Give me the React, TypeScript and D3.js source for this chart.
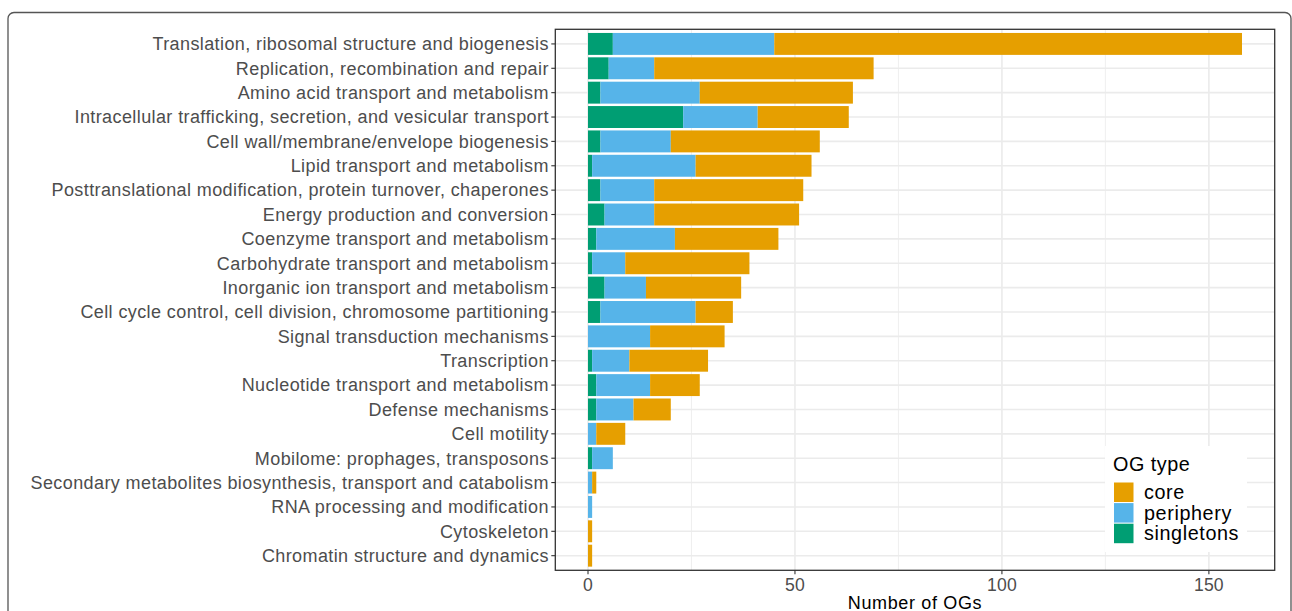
import React from "react";
import * as d3 from "d3";

// COG functional categories, top to bottom
const categories: string[] = [
  "Translation, ribosomal structure and biogenesis",
  "Replication, recombination and repair",
  "Amino acid transport and metabolism",
  "Intracellular trafficking, secretion, and vesicular transport",
  "Cell wall/membrane/envelope biogenesis",
  "Lipid transport and metabolism",
  "Posttranslational modification, protein turnover, chaperones",
  "Energy production and conversion",
  "Coenzyme transport and metabolism",
  "Carbohydrate transport and metabolism",
  "Inorganic ion transport and metabolism",
  "Cell cycle control, cell division, chromosome partitioning",
  "Signal transduction mechanisms",
  "Transcription",
  "Nucleotide transport and metabolism",
  "Defense mechanisms",
  "Cell motility",
  "Mobilome: prophages, transposons",
  "Secondary metabolites biosynthesis, transport and catabolism",
  "RNA processing and modification",
  "Cytoskeleton",
  "Chromatin structure and dynamics",
];

// Number of OGs per category for each OG type
const singletons: number[] = [6, 5, 3, 23, 3, 1, 3, 4, 2, 1, 4, 3, 0, 1, 2, 2, 0, 1, 0, 0, 0, 0];
const periphery: number[] = [39, 11, 24, 18, 17, 25, 13, 12, 19, 8, 10, 23, 15, 9, 13, 9, 2, 5, 1, 1, 0, 0];
const core: number[] = [113, 53, 37, 22, 36, 28, 36, 35, 25, 30, 23, 9, 18, 19, 12, 9, 7, 0, 1, 0, 1, 1];

const xTicks: number[] = [0, 50, 100, 150];
const xMinorTicks: number[] = [25, 75, 125];

const seriesKeys = ["singletons", "periphery", "core"];
const legendOrder = ["core", "periphery", "singletons"];
const colors: Record<string, string> = {
  core: "#E69F00",
  periphery: "#56B4E9",
  singletons: "#009E73",
};

const W = 1292;
const H = 611;
const panel = { left: 555.3, right: 1274.7, top: 29.3, bottom: 570.3 };
const FONT = "'Liberation Sans', Arial, Helvetica, sans-serif";

export default function App() {
  const rows = categories.map((c, i) => ({
    category: c,
    singletons: singletons[i],
    periphery: periphery[i],
    core: core[i],
  }));

  const maxTotal = d3.max(rows, (r) => r.singletons + r.periphery + r.core) ?? 0;
  const pad = maxTotal * 0.05;
  const x = d3
    .scaleLinear()
    .domain([-pad, maxTotal + pad])
    .range([panel.left, panel.right]);

  // discrete axis with 0.6 band expansion on each end
  const n = categories.length;
  const y = d3
    .scalePoint<string>()
    .domain(categories)
    .range([panel.top, panel.bottom])
    .padding(0.6);
  const step = y.step();
  const barH = step * 0.9;

  const stack = d3.stack<any>().keys(seriesKeys);
  const layers = stack(rows);

  const keySize = 19.5;
  const legendX = 1105;
  const legendY = 446;

  return (
    <svg
      width={W}
      height={H}
      style={{ position: "absolute", left: 0, top: 0, background: "#fff" }}
      fontFamily={FONT}
    >
      {/* outer frame */}
      <rect x={8} y={12.5} width={1283} height={640} rx={6} fill="#fff" stroke="#555" strokeWidth={1.3} />

      {/* panel background */}
      <rect
        x={panel.left}
        y={panel.top}
        width={panel.right - panel.left}
        height={panel.bottom - panel.top}
        fill="#fff"
      />

      {/* minor gridlines */}
      {xMinorTicks.map((t) => (
        <line key={"mn" + t} x1={x(t)} x2={x(t)} y1={panel.top} y2={panel.bottom} stroke="#EBEBEB" strokeWidth={0.8} />
      ))}
      {/* major gridlines */}
      {xTicks.map((t) => (
        <line key={"mj" + t} x1={x(t)} x2={x(t)} y1={panel.top} y2={panel.bottom} stroke="#EBEBEB" strokeWidth={1.6} />
      ))}
      {categories.map((c) => (
        <line key={"hg" + c} x1={panel.left} x2={panel.right} y1={y(c)} y2={y(c)} stroke="#EBEBEB" strokeWidth={1.6} />
      ))}

      {/* stacked bars */}
      {layers.map((layer) => (
        <g key={layer.key} fill={colors[layer.key]}>
          {layer.map((d, i) =>
            d[1] - d[0] > 0 ? (
              <rect
                key={i}
                x={x(d[0])}
                width={x(d[1]) - x(d[0])}
                y={(y(rows[i].category) ?? 0) - barH / 2}
                height={barH}
              />
            ) : null
          )}
        </g>
      ))}

      {/* legend */}
      <g>
        <rect x={legendX} y={legendY} width={142} height={106} fill="#fff" />
        <text x={legendX + 8} y={legendY + 25} fontSize={19.8} letterSpacing={0.5} fill="#000">
          OG type
        </text>
        {legendOrder.map((k, i) => {
          const ky = legendY + 36.5 + i * 20.6;
          return (
            <g key={k}>
              <rect x={legendX + 9} y={ky} width={keySize} height={keySize} fill={colors[k]} />
              <text
                x={legendX + 39}
                y={ky + keySize / 2}
                dy="0.35em"
                fontSize={19.8}
                letterSpacing={0.6}
                fill="#000"
              >
                {k}
              </text>
            </g>
          );
        })}
      </g>

      {/* panel border */}
      <rect
        x={panel.left}
        y={panel.top}
        width={panel.right - panel.left}
        height={panel.bottom - panel.top}
        fill="none"
        stroke="#333"
        strokeWidth={1.3}
      />

      {/* y axis */}
      {categories.map((c) => (
        <g key={"yt" + c}>
          <line x1={panel.left - 4} x2={panel.left} y1={y(c)} y2={y(c)} stroke="#333" strokeWidth={1.1} />
          <text
            x={panel.left - 6.5}
            y={y(c)}
            dy="0.35em"
            textAnchor="end"
            fontSize={18}
            letterSpacing={0.4}
            fill="#4D4D4D"
          >
            {c}
          </text>
        </g>
      ))}

      {/* x axis */}
      {xTicks.map((t) => (
        <g key={"xt" + t}>
          <line x1={x(t)} x2={x(t)} y1={panel.bottom} y2={panel.bottom + 4} stroke="#333" strokeWidth={1.1} />
          <text x={x(t)} y={590.5} textAnchor="middle" fontSize={17.6} letterSpacing={0.2} fill="#4D4D4D">
            {t}
          </text>
        </g>
      ))}
      <text
        x={(panel.left + panel.right) / 2}
        y={608.5}
        textAnchor="middle"
        fontSize={18}
        letterSpacing={0.65}
        fill="#000"
      >
        Number of OGs
      </text>
    </svg>
  );
}
